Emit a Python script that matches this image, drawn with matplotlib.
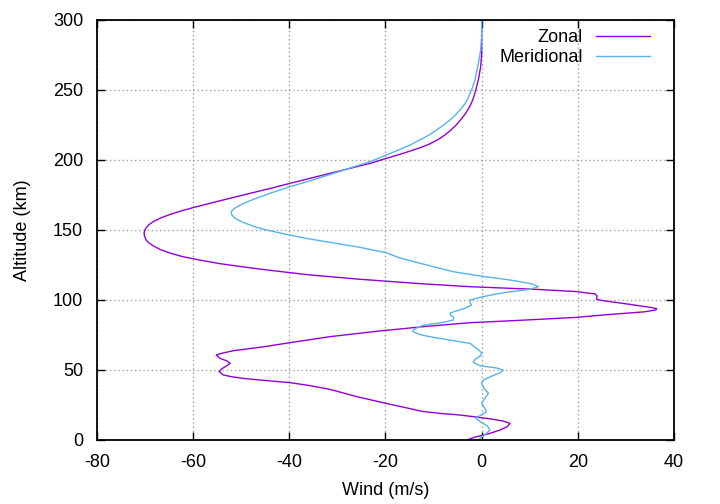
import matplotlib
matplotlib.use("Agg")
import matplotlib.pyplot as plt

plt.rcParams['font.family'] = ['Liberation Sans', 'DejaVu Sans']
plt.rcParams['axes.unicode_minus'] = False

# Zonal wind profile (altitude km, wind m/s)
zonal_alt = [0, 2, 4.5, 7.1, 9.5, 11.9, 13.5, 15, 16.7, 18, 19, 20.5, 22.5, 26,
             31, 36.2, 39, 41, 42.5, 44, 45.2, 46.4, 48.8, 51, 53, 54.8, 56.5,
             58.3, 60.7, 62, 63.8, 66.5, 69.5, 73.8, 77.9, 81, 83.8, 84.9, 86.2,
             87.6, 89.3, 91.6, 93, 93.8, 94.5, 96.9, 99.5, 100.5, 102.9, 104.3,
             106, 107.6, 109.5, 111.5, 114.8, 118, 121.4, 123.5, 126, 128.5, 131,
             133.5, 136, 138.5, 141, 143, 146, 148.1, 151, 153.5, 156, 158.5,
             161, 163.5, 166, 169, 172.6, 176, 179.5, 183.3, 187, 190, 194,
             197.6, 201.2, 204.8, 208.3, 211, 214.3, 217.5, 221.4, 225, 228.6,
             233, 238, 242.5, 247.6, 257, 266.7, 276, 300]
zonal_wind = [-3, -1.5, 1.5, 3.8, 5.3, 5.9, 4.5, 2, -1.75, -5, -8.7, -12.5, -15,
              -19.7, -26, -31.6, -36, -39.9, -45, -49.6, -52, -53.7, -54.6, -54,
              -53, -52.3, -53, -54.4, -55.2, -54, -51.6, -45.5, -39.9, -31.6,
              -21.1, -12, -2.4, 4.5, 12, 19.7, 25.3, 34, 36.3, 36.4, 35.5, 30.8,
              25.3, 23.9, 24, 23.6, 19.7, 11.4, -2.4, -12, -25.3, -36, -44.5,
              -49.3, -54.5, -58.6, -62.2, -64.8, -66.8, -68.2, -69.3, -69.8,
              -70.15, -70.2, -69.9, -69.3, -68.3, -66.8, -64.9, -62.6, -60,
              -56.6, -52.4, -48.4, -44.2, -39.9, -35.6, -32.1, -27.4, -23.2,
              -19.8, -16.3, -13.2, -11.1, -9.2, -7.8, -6.4, -5.3, -4.4, -3.4,
              -2.5, -1.9, -1.4, -0.7, -0.2, 0, 0]

# Meridional wind profile (altitude km, wind m/s)
merid_alt = [0, 1.2, 4, 7.1, 10, 12.5, 15.5, 17.5, 20.2, 23, 26.2, 29.5, 33.3,
             37, 40.5, 42.9, 45.5, 48, 50, 51.5, 53, 55, 56, 58, 60, 62, 64, 66,
             69, 71, 73, 75, 76.2, 77.5, 78.6, 80, 82, 84, 85.7, 87.5, 89, 90.5,
             92, 94, 96.4, 98, 100, 102.4, 105.2, 107.6, 109.5, 111.5, 114.3, 117,
             120.2, 125, 130, 133.8, 137.6, 142, 144, 146.4, 148.5, 150.5, 152.5,
             154.5, 156.5, 158.5, 160.5, 162, 163.5, 165.5, 168, 170.5, 173,
             176.7, 180.9, 184, 187, 190, 194.5, 198.8, 203.6, 208.3, 211, 214.3,
             217.5, 221.4, 225, 228.6, 232, 235.7, 240, 245.2, 251, 257, 269,
             278.6, 290, 300]
merid_wind = [-0.5, -0.35, 0.8, 1.7, 1.2, 0, -1.2, -0.3, 1, 0.6, 0, 0.6, 1.4,
              0.5, 0, 0.35, 2, 3.8, 4.5, 3, -0.3, -1.5, -1.75, -1.2, -0.3, 0,
              -0.5, -1.3, -2.4, -5.9, -9.5, -12.5, -13.5, -14.3, -14.2, -13.5,
              -12.1, -8, -5.9, -5.8, -6.4, -6.6, -5.5, -3.5, -2.1, -2.4, -2.4,
              0.3, 4.5, 10, 11.8, 10.5, 5.9, 0, -5.9, -11.4, -17, -19.9, -25.3,
              -33, -36.5, -39.9, -42.8, -45.3, -47.3, -48.9, -50.3, -51.3, -51.9,
              -52.1, -52, -51.4, -50.1, -48.5, -46.6, -43.6, -39.9, -36.8, -34,
              -31.2, -27.2, -23.2, -19.8, -16.5, -14.7, -12.9, -11.1, -9.4, -7.9,
              -6.6, -5.5, -4.5, -3.5, -2.7, -2, -1.4, -0.7, -0.2, 0, 0]

series_labels = ["Zonal", "Meridional"]
xticks = [-80, -60, -40, -20, 0, 20, 40]
yticks = [0, 50, 100, 150, 200, 250, 300]

fig = plt.figure(figsize=(7.2, 5.04), dpi=100)
ax = fig.add_axes([97/720, 1-440/504, 577/720, 420/504])

ax.plot(zonal_wind, zonal_alt, color='#9400d3', lw=1.0, label=series_labels[0])
ax.plot(merid_wind, merid_alt, color='#56b4e9', lw=1.0, label=series_labels[1])

ax.set_xlim(-80, 40)
ax.set_ylim(0, 300)
ax.set_xticks(xticks)
ax.set_yticks(yticks)
ax.grid(True, color='#a0a0a0', linestyle=(0, (1, 2)), lw=1.0)
ax.tick_params(direction='in', length=6, width=1, top=True, right=True,
               labelsize=13, pad=10)
for s in ax.spines.values():
    s.set_linewidth(1.3)

ax.set_xlabel("Wind (m/s)", fontsize=13, labelpad=8)
ax.set_ylabel("Altitude (km)", fontsize=13, labelpad=16)

leg = ax.legend(loc='upper right', bbox_to_anchor=(0.958, 0.978),
                borderaxespad=0, borderpad=0, frameon=False, markerfirst=False,
                fontsize=13, handlelength=3.0, handletextpad=0.7,
                labelspacing=0.17)

fig.savefig("out.png", dpi=100)
